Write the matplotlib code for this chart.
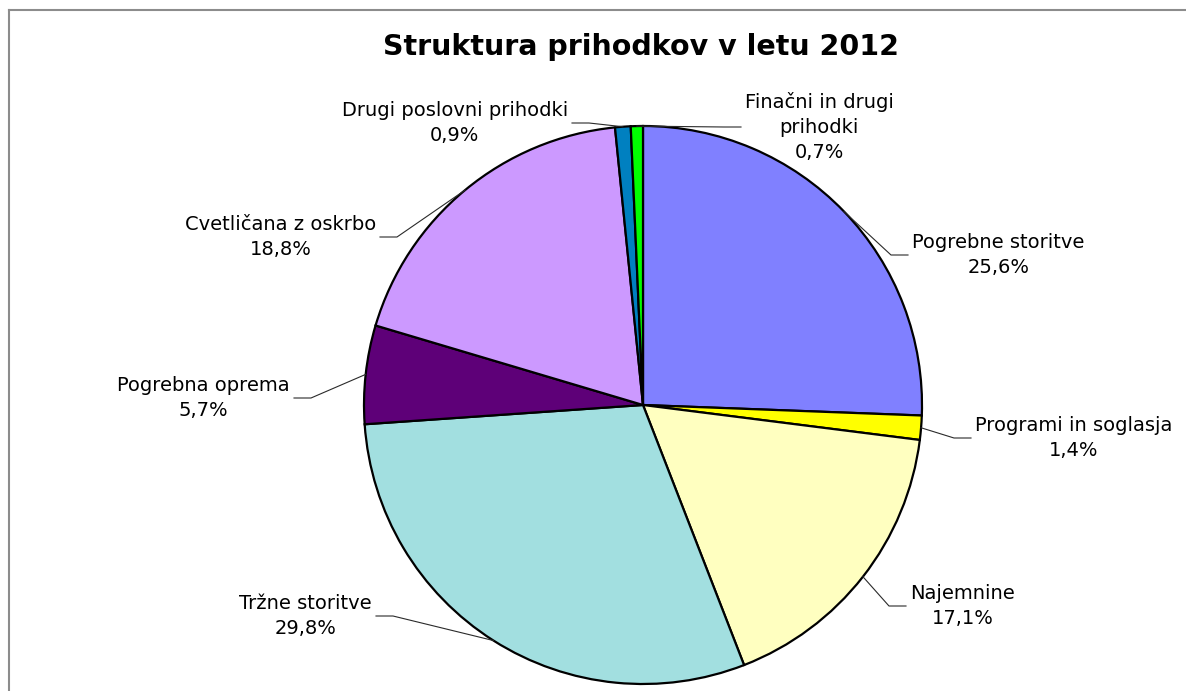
"""
Pie chart of the 2012 income structure, with leader lines to each label
"""
import matplotlib.pyplot as plt
import numpy as np
from matplotlib.lines import Line2D

categories = [
    "Pogrebne storitve", "Programi in soglasja", "Najemnine",
    "Tržne storitve", "Pogrebna oprema", "Cvetličana z oskrbo",
    "Drugi poslovni prihodki", "Finačni in drugi\nprihodki"]
shares = [25.6, 1.4, 17.1, 29.8, 5.7, 18.8, 0.9, 0.7]
colors = ["#8080ff", "#ffff00", "#ffffc0", "#a2dfe0",
          "#5e0078", "#cc99ff", "#0080c0", "#00ff00"]

# Figure size in pixels, pie centre and radius in pixels
W, H = 1186, 691
CX, CY, R = 643, 405, 279

# Label anchor (pixel x of the text edge next to the leader, pixel y centre, side)
label_pos = [
    (912, 255, "right"), (975, 438, "right"), (910, 606, "right"),
    (372, 616, "left"), (290, 398, "left"), (376, 237, "left"),
    (568, 123, "left"), (745, 127, "right")]


def px(x, y):
    """Converts pixel coordinates into pie data units"""
    return (x - CX) / R, (CY - y) / R


fig = plt.figure(figsize=(W / 100, H / 100), dpi=100)
ax = fig.add_axes([0, 0, 1, 1])
wedges, _ = ax.pie(shares, colors=colors, startangle=90, counterclock=False,
                   radius=1, center=(0, 0),
                   wedgeprops=dict(edgecolor="black", linewidth=1.6))
ax.set_xlim(-CX / R, (W - CX) / R)
ax.set_ylim(-(H - CY) / R, CY / R)
ax.axis("off")

gap = 4 / R
hlen = 17 / R
for wedge, name, share, (lx, ly, side) in zip(wedges, categories, shares,
                                              label_pos):
    # Leader line from the wedge edge to a short horizontal stub
    mid = np.deg2rad((wedge.theta1 + wedge.theta2) / 2)
    start = (np.cos(mid), np.sin(mid))
    tx, ty = px(lx, ly)
    if side == "right":
        end = (tx - gap, ty)
        elbow = (tx - gap - hlen, ty)
        ha = "left"
    else:
        end = (tx + gap, ty)
        elbow = (tx + gap + hlen, ty)
        ha = "right"
    ax.plot([start[0], elbow[0], end[0]], [start[1], elbow[1], end[1]],
            color="#2a2a2a", linewidth=0.8, zorder=1)
    ax.text(tx, ty, f"{name}\n{share:.1f}%".replace(".", ","), ha=ha,
            va="center", multialignment="center", fontsize=14,
            linespacing=1.4, color="black")

fig.text(641 / W, 1 - 47 / H, "Struktura prihodkov v letu 2012",
         ha="center", va="center", fontsize=20.5, fontweight="bold")

# Chart area border (right and bottom edges fall outside the image)
fig.add_artist(Line2D([9 / W, 9 / W], [0, 1 - 10 / H], transform=fig.transFigure,
                      color="#8c8c8c", linewidth=1.5))
fig.add_artist(Line2D([9 / W, 1], [1 - 10 / H, 1 - 10 / H],
                      transform=fig.transFigure, color="#8c8c8c", linewidth=1.5))

fig.savefig("out.png", dpi=100)
